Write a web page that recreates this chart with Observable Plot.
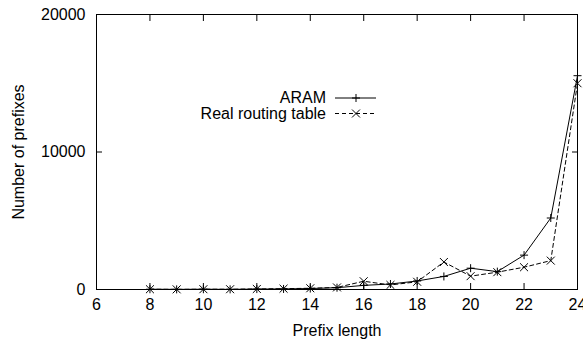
<!DOCTYPE html>
<html><head><meta charset="utf-8">
<script src="https://cdn.jsdelivr.net/npm/d3@7"></script>
<script src="https://cdn.jsdelivr.net/npm/@observablehq/plot@0.6"></script>
<style>body{margin:0;background:#fff}</style>
</head><body><div id="chart"></div>
<script>
const prefixLengths = [8, 9, 10, 11, 12, 13, 14, 15, 16, 17, 18, 19, 20, 21, 22, 23, 24];
const aramCounts = [20, 10, 20, 10, 30, 40, 70, 130, 300, 400, 620, 950, 1550, 1300, 2500, 5200, 15550];
const realCounts = [20, 10, 20, 20, 40, 60, 90, 150, 600, 330, 560, 2000, 970, 1260, 1620, 2100, 15000];
const seriesNames = ["ARAM", "Real routing table"];
const xTickValues = [6, 8, 10, 12, 14, 16, 18, 20, 22, 24];
const yTickValues = [0, 10000, 20000];
const xLabel = "Prefix length";
const yLabel = "Number of prefixes";

const plusR = 2.7, timesR = 3.7, dash = "4,3";

const legend = () => {
  const g = d3.create("svg:g").attr("font-size", 16);
  const entries = [
    {name: seriesNames[0], y: 98, dash: null, sym: d3.symbolPlus, r: plusR},
    {name: seriesNames[1], y: 113.5, dash: dash, sym: d3.symbolTimes, r: timesR}
  ];
  for (const e of entries) {
    g.append("text").attr("x", 326).attr("y", e.y).attr("text-anchor", "end")
      .attr("dy", "0.32em").attr("fill", "#000").text(e.name);
    g.append("line").attr("x1", 335).attr("x2", 376).attr("y1", e.y).attr("y2", e.y)
      .attr("stroke", "#000").attr("stroke-width", 1).attr("stroke-dasharray", e.dash);
    g.append("path").attr("transform", `translate(356,${e.y})`)
      .attr("d", d3.symbol(e.sym, e.r * e.r * Math.PI)()).attr("fill", "none")
      .attr("stroke", "#000").attr("stroke-width", 1);
  }
  return g.node();
};

const chart = Plot.plot({
  width: 583, height: 339,
  marginLeft: 96, marginRight: 6, marginTop: 14, marginBottom: 50,
  style: {fontFamily: "'Liberation Sans', Arial, Helvetica, sans-serif", fontSize: "16px", color: "#000", background: "#fff"},
  x: {domain: [6, 24]},
  y: {domain: [0, 20000]},
  marks: [
    Plot.axisX(xTickValues, {anchor: "bottom", tickSize: 0, tickPadding: 9, label: null, tickFormat: d => d}),
    Plot.axisX(xTickValues, {anchor: "bottom", tickSize: -6, fill: "none", label: null}),
    Plot.axisX(xTickValues, {anchor: "top", tickSize: -6, fill: "none", label: null}),
    Plot.axisY(yTickValues, {anchor: "left", tickSize: 0, tickPadding: 11, label: null, tickFormat: d => String(d)}),
    Plot.axisY(yTickValues, {anchor: "left", tickSize: -6, fill: "none", label: null}),
    Plot.axisY(yTickValues, {anchor: "right", tickSize: -6, fill: "none", label: null}),
    Plot.line(prefixLengths, {x: d => d, y: realCounts, stroke: "#000", strokeWidth: 1, strokeDasharray: dash}),
    Plot.line(prefixLengths, {x: d => d, y: aramCounts, stroke: "#000", strokeWidth: 1}),
    Plot.dot(prefixLengths, {x: d => d, y: realCounts, symbol: "times", r: timesR, stroke: "#000", strokeWidth: 1}),
    Plot.dot(prefixLengths, {x: d => d, y: aramCounts, symbol: "plus", r: plusR, stroke: "#000", strokeWidth: 1}),
    Plot.frame({stroke: "#000", strokeWidth: 1}),
    Plot.text([xLabel], {text: d => d, frameAnchor: "bottom", dy: 41, lineAnchor: "middle", textAnchor: "middle", fill: "#000"}),
    Plot.text([yLabel], {text: d => d, frameAnchor: "left", rotate: -90, dx: -78, lineAnchor: "middle", textAnchor: "middle", fill: "#000"}),
    legend
  ]
});
document.getElementById("chart").append(chart);
</script>
</body></html>
